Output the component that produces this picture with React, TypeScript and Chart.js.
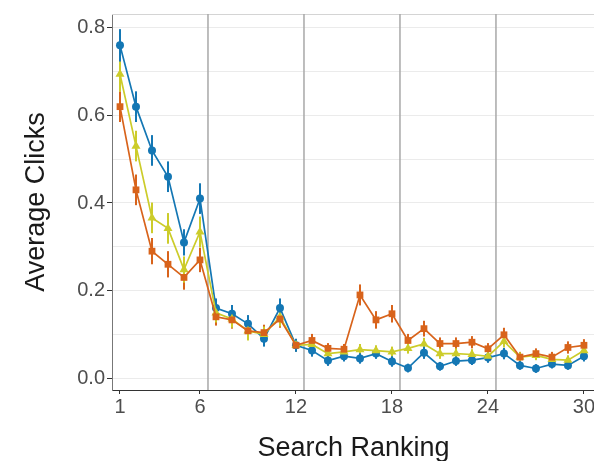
import { useEffect, useRef } from 'react';
import { Chart, registerables } from 'chart.js';
Chart.register(...registerables);

const ranks = [1, 2, 3, 4, 5, 6, 7, 8, 9, 10, 11, 12, 13, 14, 15, 16, 17, 18, 19, 20, 21, 22, 23, 24, 25, 26, 27, 28, 29, 30];
const xTickValues = [1, 6, 12, 18, 24, 30];
const yTickValues = [0, 0.1, 0.2, 0.3, 0.4, 0.5, 0.6, 0.7, 0.8];
const yLabelValues = [0, 0.2, 0.4, 0.6, 0.8];
const separators = [6.5, 12.5, 18.5, 24.5];

const blueValues = [0.76, 0.62, 0.52, 0.46, 0.31, 0.41, 0.16, 0.147, 0.124, 0.09, 0.16, 0.075, 0.063, 0.04, 0.05, 0.045, 0.056, 0.038, 0.023, 0.058, 0.027, 0.039, 0.041, 0.047, 0.056, 0.029, 0.022, 0.032, 0.029, 0.05];
const blueErrors = [0.037, 0.035, 0.035, 0.035, 0.03, 0.035, 0.022, 0.02, 0.02, 0.018, 0.022, 0.015, 0.014, 0.012, 0.012, 0.012, 0.012, 0.012, 0.01, 0.014, 0.01, 0.011, 0.011, 0.012, 0.013, 0.01, 0.01, 0.01, 0.01, 0.012];

const orangeValues = [0.62, 0.43, 0.29, 0.26, 0.23, 0.27, 0.14, 0.133, 0.108, 0.104, 0.135, 0.075, 0.086, 0.068, 0.066, 0.19, 0.133, 0.147, 0.086, 0.113, 0.079, 0.079, 0.082, 0.067, 0.099, 0.048, 0.056, 0.048, 0.07, 0.075];
const orangeErrors = [0.035, 0.035, 0.03, 0.03, 0.028, 0.028, 0.02, 0.02, 0.018, 0.018, 0.02, 0.014, 0.015, 0.012, 0.012, 0.024, 0.02, 0.02, 0.015, 0.018, 0.014, 0.014, 0.014, 0.013, 0.016, 0.012, 0.012, 0.012, 0.014, 0.014];

const yellowValues = [0.694, 0.53, 0.366, 0.342, 0.248, 0.334, 0.149, 0.135, 0.108, 0.1, 0.14, 0.075, 0.077, 0.056, 0.06, 0.065, 0.063, 0.06, 0.068, 0.078, 0.056, 0.056, 0.054, 0.05, 0.084, 0.048, 0.052, 0.043, 0.041, 0.063];
const yellowErrors = [0.04, 0.035, 0.035, 0.035, 0.03, 0.035, 0.022, 0.02, 0.022, 0.018, 0.022, 0.014, 0.014, 0.012, 0.012, 0.013, 0.012, 0.012, 0.012, 0.014, 0.012, 0.012, 0.012, 0.012, 0.014, 0.011, 0.011, 0.011, 0.011, 0.012];

const BLUE = '#1477b4';
const ORANGE = '#d8631b';
const YELLOW = '#cccc2a';
const FONT = "'Liberation Sans', Arial, sans-serif";

const overlay = {
  id: 'overlay',
  beforeDatasetsDraw(chart: any) {
    const { ctx, chartArea, scales } = chart;
    const x = scales.x;
    const y = scales.y;
    ctx.save();
    ctx.strokeStyle = '#d4d4d4';
    ctx.lineWidth = 1;
    ctx.beginPath();
    ctx.moveTo(chartArea.left, chartArea.top + 0.5);
    ctx.lineTo(chartArea.right, chartArea.top + 0.5);
    ctx.stroke();
    ctx.strokeStyle = '#a8a8a8';
    ctx.lineWidth = 1.5;
    separators.forEach((s) => {
      const px = x.getPixelForValue(s);
      ctx.beginPath();
      ctx.moveTo(px, chartArea.top);
      ctx.lineTo(px, chartArea.bottom);
      ctx.stroke();
    });
    chart.data.datasets.forEach((ds: any) => {
      ctx.strokeStyle = ds.borderColor;
      ctx.lineWidth = 2;
      ds.data.forEach((p: any, i: number) => {
        const e = ds.errors[i];
        const px = x.getPixelForValue(p.x);
        ctx.beginPath();
        ctx.moveTo(px, y.getPixelForValue(p.y - e));
        ctx.lineTo(px, y.getPixelForValue(p.y + e));
        ctx.stroke();
      });
    });
    ctx.restore();
  },
};

function mk(values: number[], errors: number[], color: string, style: string, radius: number) {
  return {
    data: ranks.map((r, i) => ({ x: r, y: values[i] })),
    errors,
    borderColor: color,
    backgroundColor: color,
    borderWidth: 1.7,
    pointStyle: style,
    pointRadius: radius,
    pointBorderWidth: 0,
    pointBackgroundColor: color,
    tension: 0,
  };
}

export default function App() {
  const ref = useRef<HTMLCanvasElement>(null);
  useEffect(() => {
    const chart = new Chart(ref.current as HTMLCanvasElement, {
      type: 'line',
      data: {
        datasets: [
          mk(orangeValues, orangeErrors, ORANGE, 'rect', 4.8),
          mk(yellowValues, yellowErrors, YELLOW, 'triangle', 5.2),
          mk(blueValues, blueErrors, BLUE, 'circle', 4),
        ] as any,
      },
      options: {
        animation: false,
        responsive: false,
        layout: { padding: { left: 0, top: 10, right: 25, bottom: 0 } },
        plugins: { legend: { display: false }, tooltip: { enabled: false } },
        scales: {
          x: {
            type: 'linear',
            min: 0.5,
            max: 30.69,
            afterBuildTicks: (s: any) => {
              s.ticks = xTickValues.map((v) => ({ value: v }));
            },
            afterFit: (s: any) => {
              s.height = 71;
            },
            ticks: {
              autoSkip: false,
              maxRotation: 0,
              padding: 1,
              color: '#4d4d4d',
              font: { family: FONT, size: 20 },
              callback: (v: any) => String(v),
            },
            grid: { color: 'rgba(0,0,0,0)', tickColor: '#333', tickLength: 4, tickWidth: 1 },
            border: { display: true, color: '#333', width: 1 },
            title: {
              display: true,
              text: 'Search Ranking',
              color: '#1a1a1a',
              font: { family: FONT, size: 27 },
              padding: { top: 0, bottom: -4 },
            },
          },
          y: {
            type: 'linear',
            min: -0.0271,
            max: 0.8316,
            afterBuildTicks: (s: any) => {
              s.ticks = yTickValues.map((v) => ({ value: v }));
            },
            afterFit: (s: any) => {
              s.width = 112;
            },
            ticks: {
              autoSkip: false,
              padding: 2,
              color: '#4d4d4d',
              font: { family: FONT, size: 20 },
              callback: (v: any) => {
                const n = Number(v);
                return yLabelValues.some((l) => Math.abs(l - n) < 1e-6) ? n.toFixed(1) : '';
              },
            },
            grid: {
              color: '#ebebeb',
              lineWidth: 1,
              tickLength: 5,
              tickColor: (c: any) =>
                c.tick && yLabelValues.some((l) => Math.abs(l - c.tick.value) < 1e-6) ? '#333' : 'rgba(0,0,0,0)',
            },
            border: { display: true, color: '#777', width: 1 },
            title: {
              display: true,
              text: 'Average Clicks',
              color: '#1a1a1a',
              font: { family: FONT, size: 27 },
              padding: { top: 20, bottom: 0 },
            },
          },
        },
      },
      plugins: [overlay],
    });
    return () => chart.destroy();
  }, []);
  return (
    <div style={{ position: 'absolute', left: 0, top: 0, width: 594, height: 461, overflow: 'hidden', background: '#fff' }}>
      <canvas ref={ref} width={620} height={461} style={{ display: 'block', width: 620, height: 461 }} />
    </div>
  );
}
